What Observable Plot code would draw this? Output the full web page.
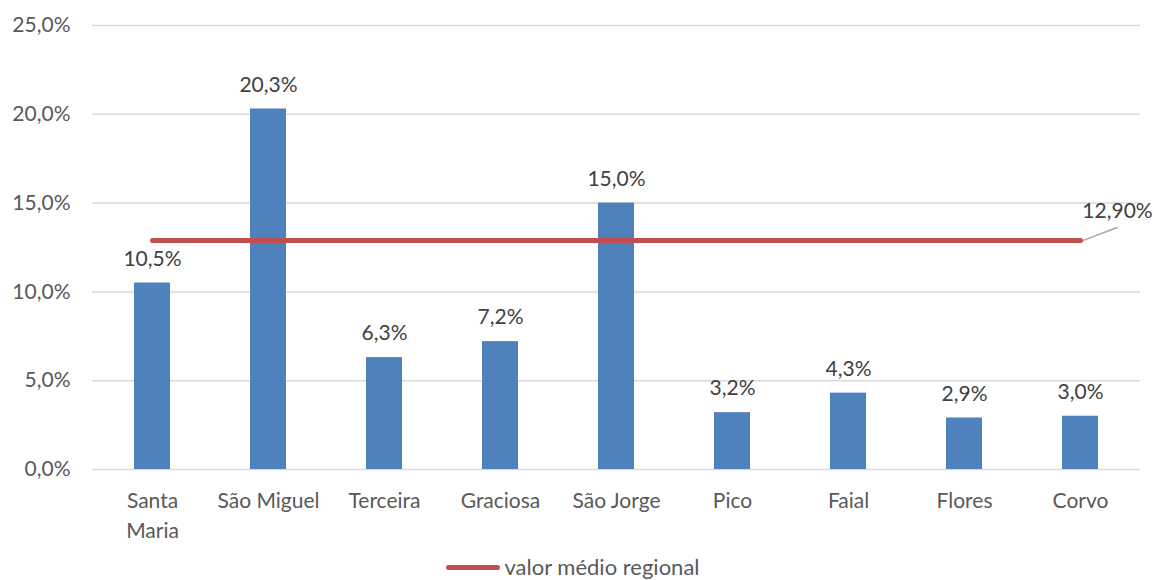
<!DOCTYPE html>
<html>
<head>
<meta charset="utf-8">
<script src="https://cdn.jsdelivr.net/npm/d3@7"></script>
<script src="https://cdn.jsdelivr.net/npm/@observablehq/plot@0.6"></script>
<style>
  body { margin: 0; background: #fff; font-family: Lato, "Open Sans", sans-serif; }
  #legend { height: 28px; padding-top: 2px; padding-right: 8px; box-sizing: border-box; display: flex; justify-content: center; align-items: center; color: #595959; font-size: 22px; line-height: 1; }
  #legend .sw { display: inline-block; width: 54px; height: 5px; border-radius: 3px; background: #C0504D; margin-right: 4px; }
</style>
</head>
<body>
<div id="chart"></div>
<div id="legend"><span class="sw"></span><span>valor médio regional</span></div>
<script>
const categories = ["Santa\nMaria", "São Miguel", "Terceira", "Graciosa", "São Jorge", "Pico", "Faial", "Flores", "Corvo"];
const values = [10.5, 20.3, 6.3, 7.2, 15.0, 3.2, 4.3, 2.9, 3.0];
const regionalAverage = 12.9;
const regionalLabel = "12,90%";
const yTicks = [0, 5, 10, 15, 20, 25];

const data = categories.map((c, i) => ({cat: c, value: values[i]}));
const fmt = v => v.toFixed(1).replace(".", ",") + "%";
const font = "Lato, 'Open Sans', sans-serif";

const leader = {
  draw(context, l) { context.moveTo(0, 0); context.lineTo(0, -l); }
};

const chart = Plot.plot({
  width: 1154,
  height: 552,
  marginTop: 25,
  marginBottom: 83,
  marginLeft: 92,
  marginRight: 14,
  style: {fontFamily: font, fontSize: "21px", color: "#595959", background: "#fff"},
  x: {domain: categories, type: "band", paddingInner: 0.69, paddingOuter: 0.345, label: null},
  y: {domain: [0, 25], label: null},
  marks: [
    Plot.gridY(yTicks, {stroke: "#D9D9D9", strokeOpacity: 1, strokeWidth: 1.5}),
    Plot.axisY(yTicks, {tickSize: 0, tickPadding: 22, tickFormat: fmt, fontSize: 21, fill: "#595959", label: null}),
    Plot.axisX({tickSize: 0, tickPadding: 18, fontSize: 21, fill: "#595959", lineHeight: 1.4, label: null}),
    Plot.barY(data, {x: "cat", y: "value", fill: "#4F81BD"}),
    Plot.text(data, {x: "cat", y: "value", text: d => fmt(d.value), dy: -24, fontSize: 21, fill: "#404040"}),
    Plot.lineY(data, {x: "cat", y: () => regionalAverage, stroke: "#C0504D", strokeWidth: 5}),
    Plot.vector([{cat: categories[categories.length - 1]}], {x: "cat", y: () => regionalAverage, dx: 3, length: 36, rotate: 69, anchor: "start", shape: leader, stroke: "#A6A6A6", strokeWidth: 1.5}),
    Plot.text([{cat: categories[categories.length - 1]}], {x: "cat", y: () => regionalAverage, text: () => regionalLabel, dx: 37, dy: -29, fontSize: 21, fill: "#404040"})
  ]
});
document.getElementById("chart").appendChild(chart);
</script>
</body>
</html>
